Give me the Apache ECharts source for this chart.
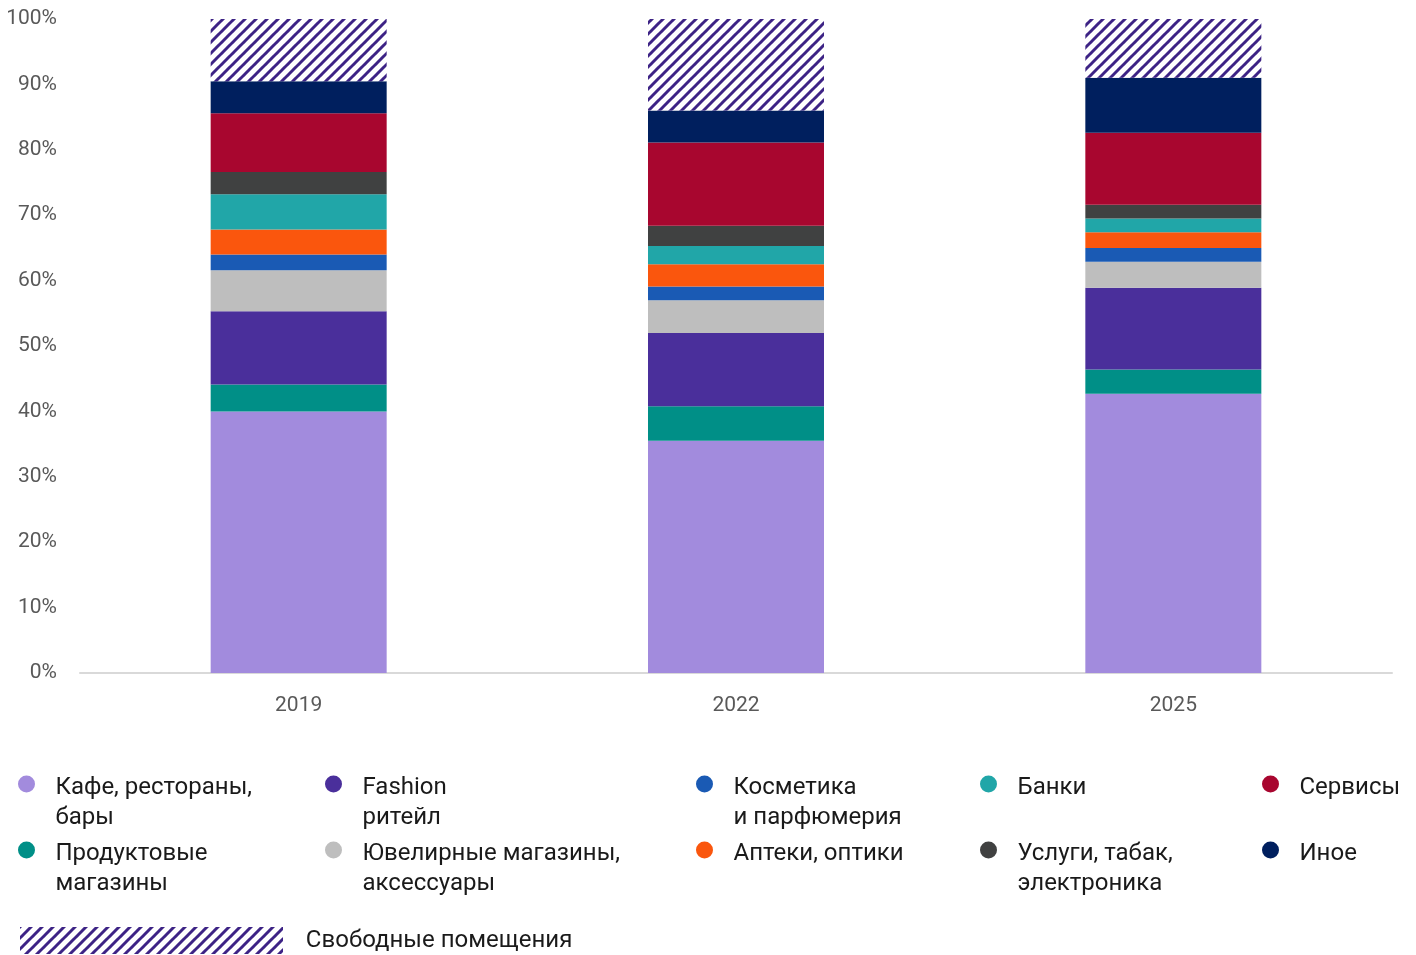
<!DOCTYPE html>
<html>
<head>
<meta charset="utf-8">
<script src="https://cdn.jsdelivr.net/npm/echarts@6/dist/echarts.min.js"></script>
<style>
html,body{margin:0;padding:0;background:#fff;}
#chart{width:1416px;height:955px;}
</style>
</head>
<body>
<div id="chart"></div>
<script>
const categories = ['2019', '2022', '2025'];
const yTickLabels = ['0%', '10%', '20%', '30%', '40%', '50%', '60%', '70%', '80%', '90%', '100%'];

const cafe         = [40.0, 35.5, 42.7];
const grocery      = [4.1, 5.3, 3.7];
const fashion      = [11.2, 11.2, 12.5];
const jewelry      = [6.3, 5.0, 4.0];
const cosmetics    = [2.4, 2.1, 2.1];
const pharmacy     = [3.8, 3.4, 2.4];
const banks        = [5.4, 2.8, 2.1];
const tobacco      = [3.4, 3.1, 2.1];
const services     = [9.0, 12.7, 11.0];
const other        = [4.9, 4.9, 8.4];
const vacant       = [9.5, 14.0, 9.0];

const seriesNames = [
  'Кафе, рестораны,\nбары',
  'Продуктовые\nмагазины',
  'Fashion\nритейл',
  'Ювелирные магазины,\nаксессуары',
  'Косметика\nи парфюмерия',
  'Аптеки, оптики',
  'Банки',
  'Услуги, табак,\nэлектроника',
  'Сервисы',
  'Иное',
  'Свободные помещения'
];
const seriesData = [cafe, grocery, fashion, jewelry, cosmetics, pharmacy, banks, tobacco, services, other, vacant];
const colors = ['#A28BDD', '#008F87', '#4A2F9B', '#BEBEBE', '#1A5AB4', '#FA560D', '#21A6A8', '#404141', '#A8062F', '#001F5E', null];

// hatch pattern
function makeHatch() {
  const P = 11;
  const c = document.createElement('canvas');
  c.width = P; c.height = P;
  const ctx = c.getContext('2d');
  ctx.fillStyle = '#ffffff';
  ctx.fillRect(0, 0, P, P);
  ctx.strokeStyle = '#3D2385';
  ctx.lineWidth = 3;
  for (let k = -1; k <= 1; k++) {
    ctx.beginPath();
    ctx.moveTo(k * P - 1, P + 1);
    ctx.lineTo(k * P + P + 1, -1);
    ctx.stroke();
  }
  return c;
}
const hatch = { image: makeHatch(), repeat: 'repeat' };

const chart = echarts.init(document.getElementById('chart'));

const series = seriesNames.map((name, i) => ({
  name: name,
  type: 'bar',
  stack: 'total',
  barWidth: 176,
  data: seriesData[i],
  itemStyle: { color: colors[i] || hatch },
  emphasis: { disabled: true }
}));

// legend layout
const colCircle = [26, 333, 704, 988, 1270];
const legendCells = [
  [0, 0, 0], [2, 1, 0], [4, 2, 0], [6, 3, 0], [8, 4, 0],
  [1, 0, 1], [3, 1, 1], [5, 2, 1], [7, 3, 1], [9, 4, 1]
];
const rowCenter = [784, 850];
const lh = 30;
const textOffset = 4;
const legends = legendCells.map(([si, col, row]) => {
  const lines = seriesNames[si].split('\n');
  const padH = lines.length === 2 ? 30 + 2 * textOffset : 2 * textOffset;
  const blockH = padH + lines.length * lh;
  return {
    data: [{ name: seriesNames[si], icon: 'circle' }],
    left: colCircle[col] - 13,
    top: rowCenter[row] - blockH / 2 - 5,
    itemWidth: 48,
    itemHeight: 17,
    selectedMode: false,
    formatter: () => '{p| }\n' + lines.map((l) => '{t|' + l + '}').join('\n'),
    textStyle: {
      rich: {
        p: { fontSize: 2, lineHeight: padH, height: padH },
        t: { fontFamily: 'Roboto', fontSize: 24, color: '#1a1a1a', lineHeight: lh }
      }
    }
  };
});
legends.push({
  data: [{ name: seriesNames[10], icon: 'rect' }],
  left: 15,
  top: 922,
  itemWidth: 263,
  itemHeight: 27,
  itemGap: 0,
  selectedMode: false,
  formatter: (n) => '   ' + n,
  textStyle: {
    fontFamily: 'Roboto',
    fontSize: 24,
    color: '#1a1a1a'
  }
});

chart.setOption({
  animation: false,
  backgroundColor: '#ffffff',
  grid: { left: 80, right: 24, top: 19, bottom: 282, containLabel: false },
  legend: legends,
  xAxis: {
    type: 'category',
    data: categories,
    axisLine: { lineStyle: { color: '#D9D9D9', width: 2 } },
    axisTick: { show: false },
    axisLabel: { color: '#595959', fontFamily: 'Roboto', fontSize: 21, margin: 22 }
  },
  yAxis: {
    type: 'value',
    min: 0,
    max: 100,
    interval: 10,
    splitLine: { show: false },
    axisLine: { show: false },
    axisTick: { show: false },
    axisLabel: {
      color: '#595959',
      fontFamily: 'Roboto',
      fontSize: 21,
      margin: 23,
      formatter: (v) => yTickLabels[Math.round(v / 10)]
    }
  },
  series: series
});
</script>
</body>
</html>
